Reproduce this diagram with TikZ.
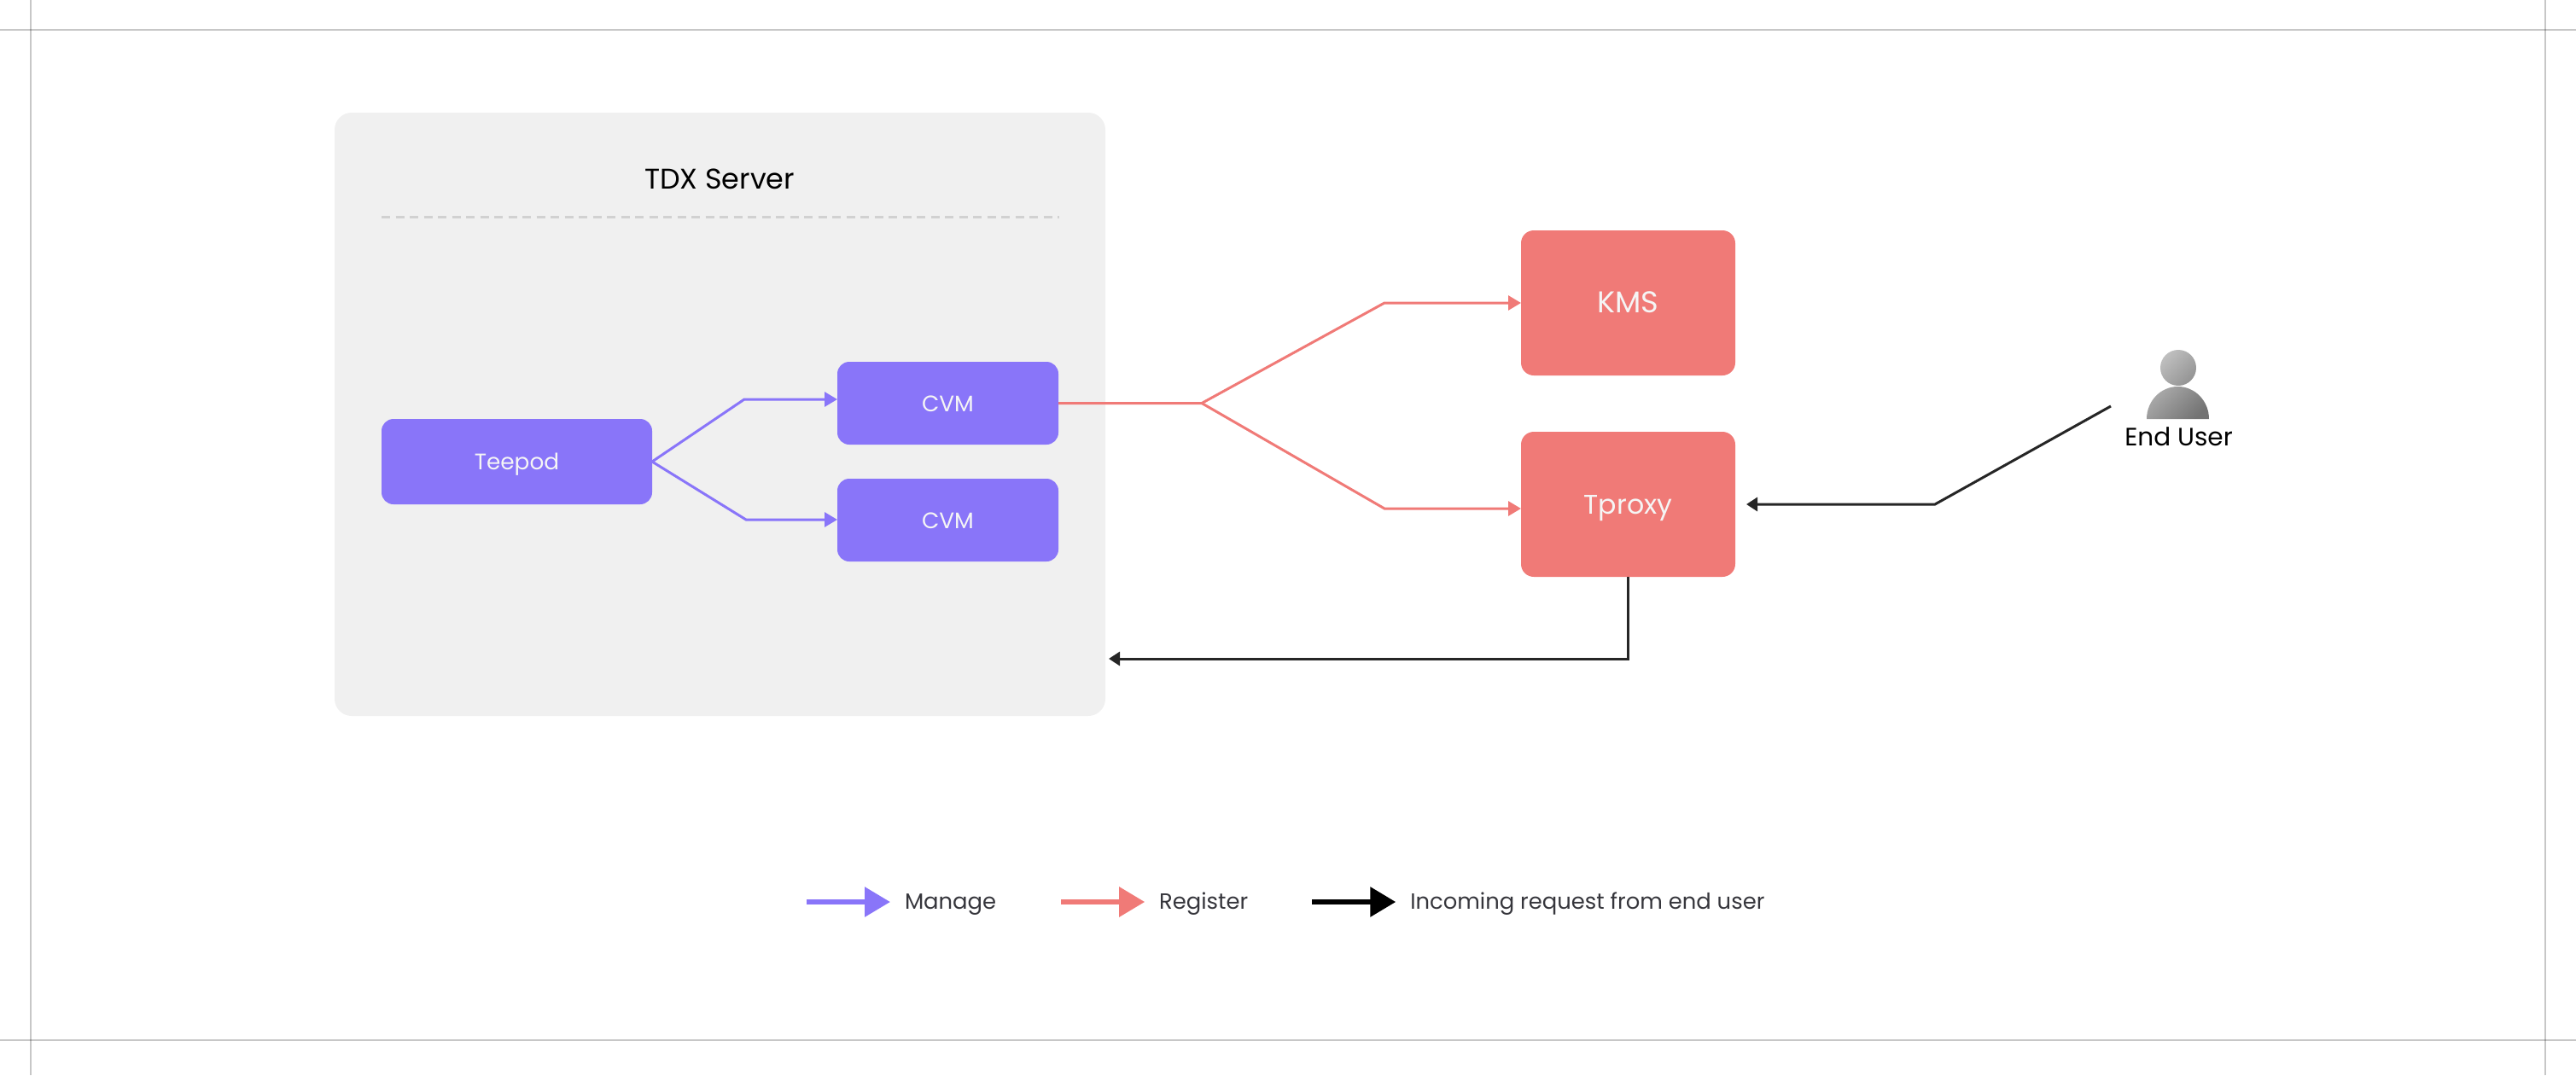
\documentclass[tikz,border=0pt]{standalone}
\usepackage{fontspec}
\setmainfont{Poppins}
\usepackage{xcolor}
\usetikzlibrary{arrows.meta, positioning, calc}
\definecolor{managecol}{HTML}{8975F9}
\definecolor{registercol}{HTML}{F07A77}
\definecolor{servercol}{HTML}{F0F0F0}
\definecolor{requestcol}{HTML}{262626}
\definecolor{legendcol}{HTML}{36363C}
\tikzset{
    boxfont/.style={font=\fontsize{#1}{#1}\selectfont},
    serverbox/.style={fill=servercol, rounded corners=0.2cm, outer sep=0pt, minimum width=9.03cm, minimum height=7.07cm},
    vmbox/.style={fill=managecol, text=white!96!black, rounded corners=0.14cm, outer sep=0pt, inner sep=0pt, text height=0.19cm, text depth=0pt, boxfont=7.5},
    svcbox/.style={fill=registercol, text=white!96!black, rounded corners=0.15cm, outer sep=0pt, inner sep=0pt, minimum width=2.51cm, minimum height=1.70cm, text height=0.22cm, text depth=0pt, boxfont=9},
    legendtext/.style={text=legendcol, inner ysep=0pt, inner xsep=0.17cm, outer sep=0pt, text height=0.2cm, text depth=0.04cm, boxfont=7.35},
    managearrow/.style={draw=managecol, line width=0.03cm, -{Triangle[length=0.15cm,width=0.17cm]}},
    registerarrow/.style={draw=registercol, line width=0.03cm, -{Triangle[length=0.15cm,width=0.17cm]}},
    requestarrow/.style={draw=requestcol, line width=0.03cm, -{Triangle[length=0.13cm,width=0.16cm]}},
    legendarrow/.style={draw=#1, fill=#1, line width=0.06cm, -{Triangle[length=0.3cm,width=0.34cm]}},
    cropline/.style={draw=black, opacity=0.22, line width=0.025cm},
}
\begin{document}
\begin{tikzpicture}
    \useasboundingbox (0,0) rectangle (30.18,12.6);
    % crop marks
    \draw[cropline] (0.36,0) -- (0.36,12.6);
    \draw[cropline] (29.82,0) -- (29.82,12.6);
    \draw[cropline] (0,12.25) -- (30.18,12.25);
    \draw[cropline] (0,0.41) -- (30.18,0.41);

    % server
    \node[serverbox] (server) at (8.435,7.745) {};
    \node[text=black, inner sep=0pt, boxfont=9.5] (title) at (8.43,10.5) {TDX Server};
    \coordinate (rule left) at (4.47,10.06);
    \coordinate (rule right) at (12.41,10.06);
    \draw[draw=black!18, line width=0.03cm, dash pattern=on 0.1cm off 0.065cm] (rule left) -- (rule right);
    \node[vmbox, minimum width=3.17cm, minimum height=1.0cm] (teepod) at (6.055,7.19) {Teepod};
    \node[vmbox, minimum width=2.59cm, minimum height=0.97cm, right=2.17cm of teepod, yshift=0.685cm] (cvm1) {CVM};
    \node[vmbox, minimum width=2.59cm, minimum height=0.97cm, below=0.40cm of cvm1] (cvm2) {CVM};

    % services
    \node[svcbox, boxfont=10] (kms) at (19.075,9.05) {KMS};
    \node[svcbox, below=0.66cm of kms] (tproxy) {Tproxy};

    % end user
    \coordinate (user) at (25.52,8.29);
    \shade[left color=black!25, right color=black!42, shading angle=45] (user) circle (0.21cm);
    \shade[left color=black!33, right color=black!55, shading angle=45] (25.15,7.69) arc[start angle=180, end angle=0, x radius=0.365cm, y radius=0.38cm] -- cycle;
    \node[text=black, inner sep=0pt, boxfont=8.4] (enduser) at (25.525,7.485) {End User};

    % manage
    \coordinate (tee up) at (8.72,7.92);
    \coordinate (tee down) at (8.74,6.51);
    \draw[managearrow] (teepod.east) -- (tee up) -- (tee up -| cvm1.west);
    \draw[managearrow] (teepod.east) -- (tee down) -- (tee down -| cvm2.west);

    % register
    \coordinate (reg up) at (16.22,9.05);
    \coordinate (reg down) at (16.22,6.64);
    \coordinate (reg split) at (14.08,7.875);
    \draw[registerarrow] (cvm1.east) -- (reg split) -- (reg up) -- (kms.west);
    \draw[registerarrow] (reg split) -- (reg down) -- (reg down -| tproxy.west);

    % requests
    \coordinate (user line) at (24.73,7.84);
    \coordinate (user bend) at (22.67,6.69);
    \draw[requestarrow, shorten >=0.13cm] (user line) -- (user bend) -- (user bend -| tproxy.east);
    \draw[requestarrow] (tproxy.south) |- ([shift={(0.04,-2.865)}]server.east);

    % legend
    \node[legendtext, anchor=west] (manage) at (10.43,2.03) {Manage};
    \node[legendtext, right=1.57cm of manage] (register) {Register};
    \node[legendtext, right=1.56cm of register] (incoming) {Incoming request from end user};
    \coordinate[left=0.98cm of manage] (manage start);
    \coordinate[left=0.98cm of register] (register start);
    \coordinate[left=0.98cm of incoming] (incoming start);
    \draw[legendarrow=managecol] (manage start) -- (manage.west);
    \draw[legendarrow=registercol] (register start) -- (register.west);
    \draw[legendarrow=black] (incoming start) -- (incoming.west);
\end{tikzpicture}
\end{document}
